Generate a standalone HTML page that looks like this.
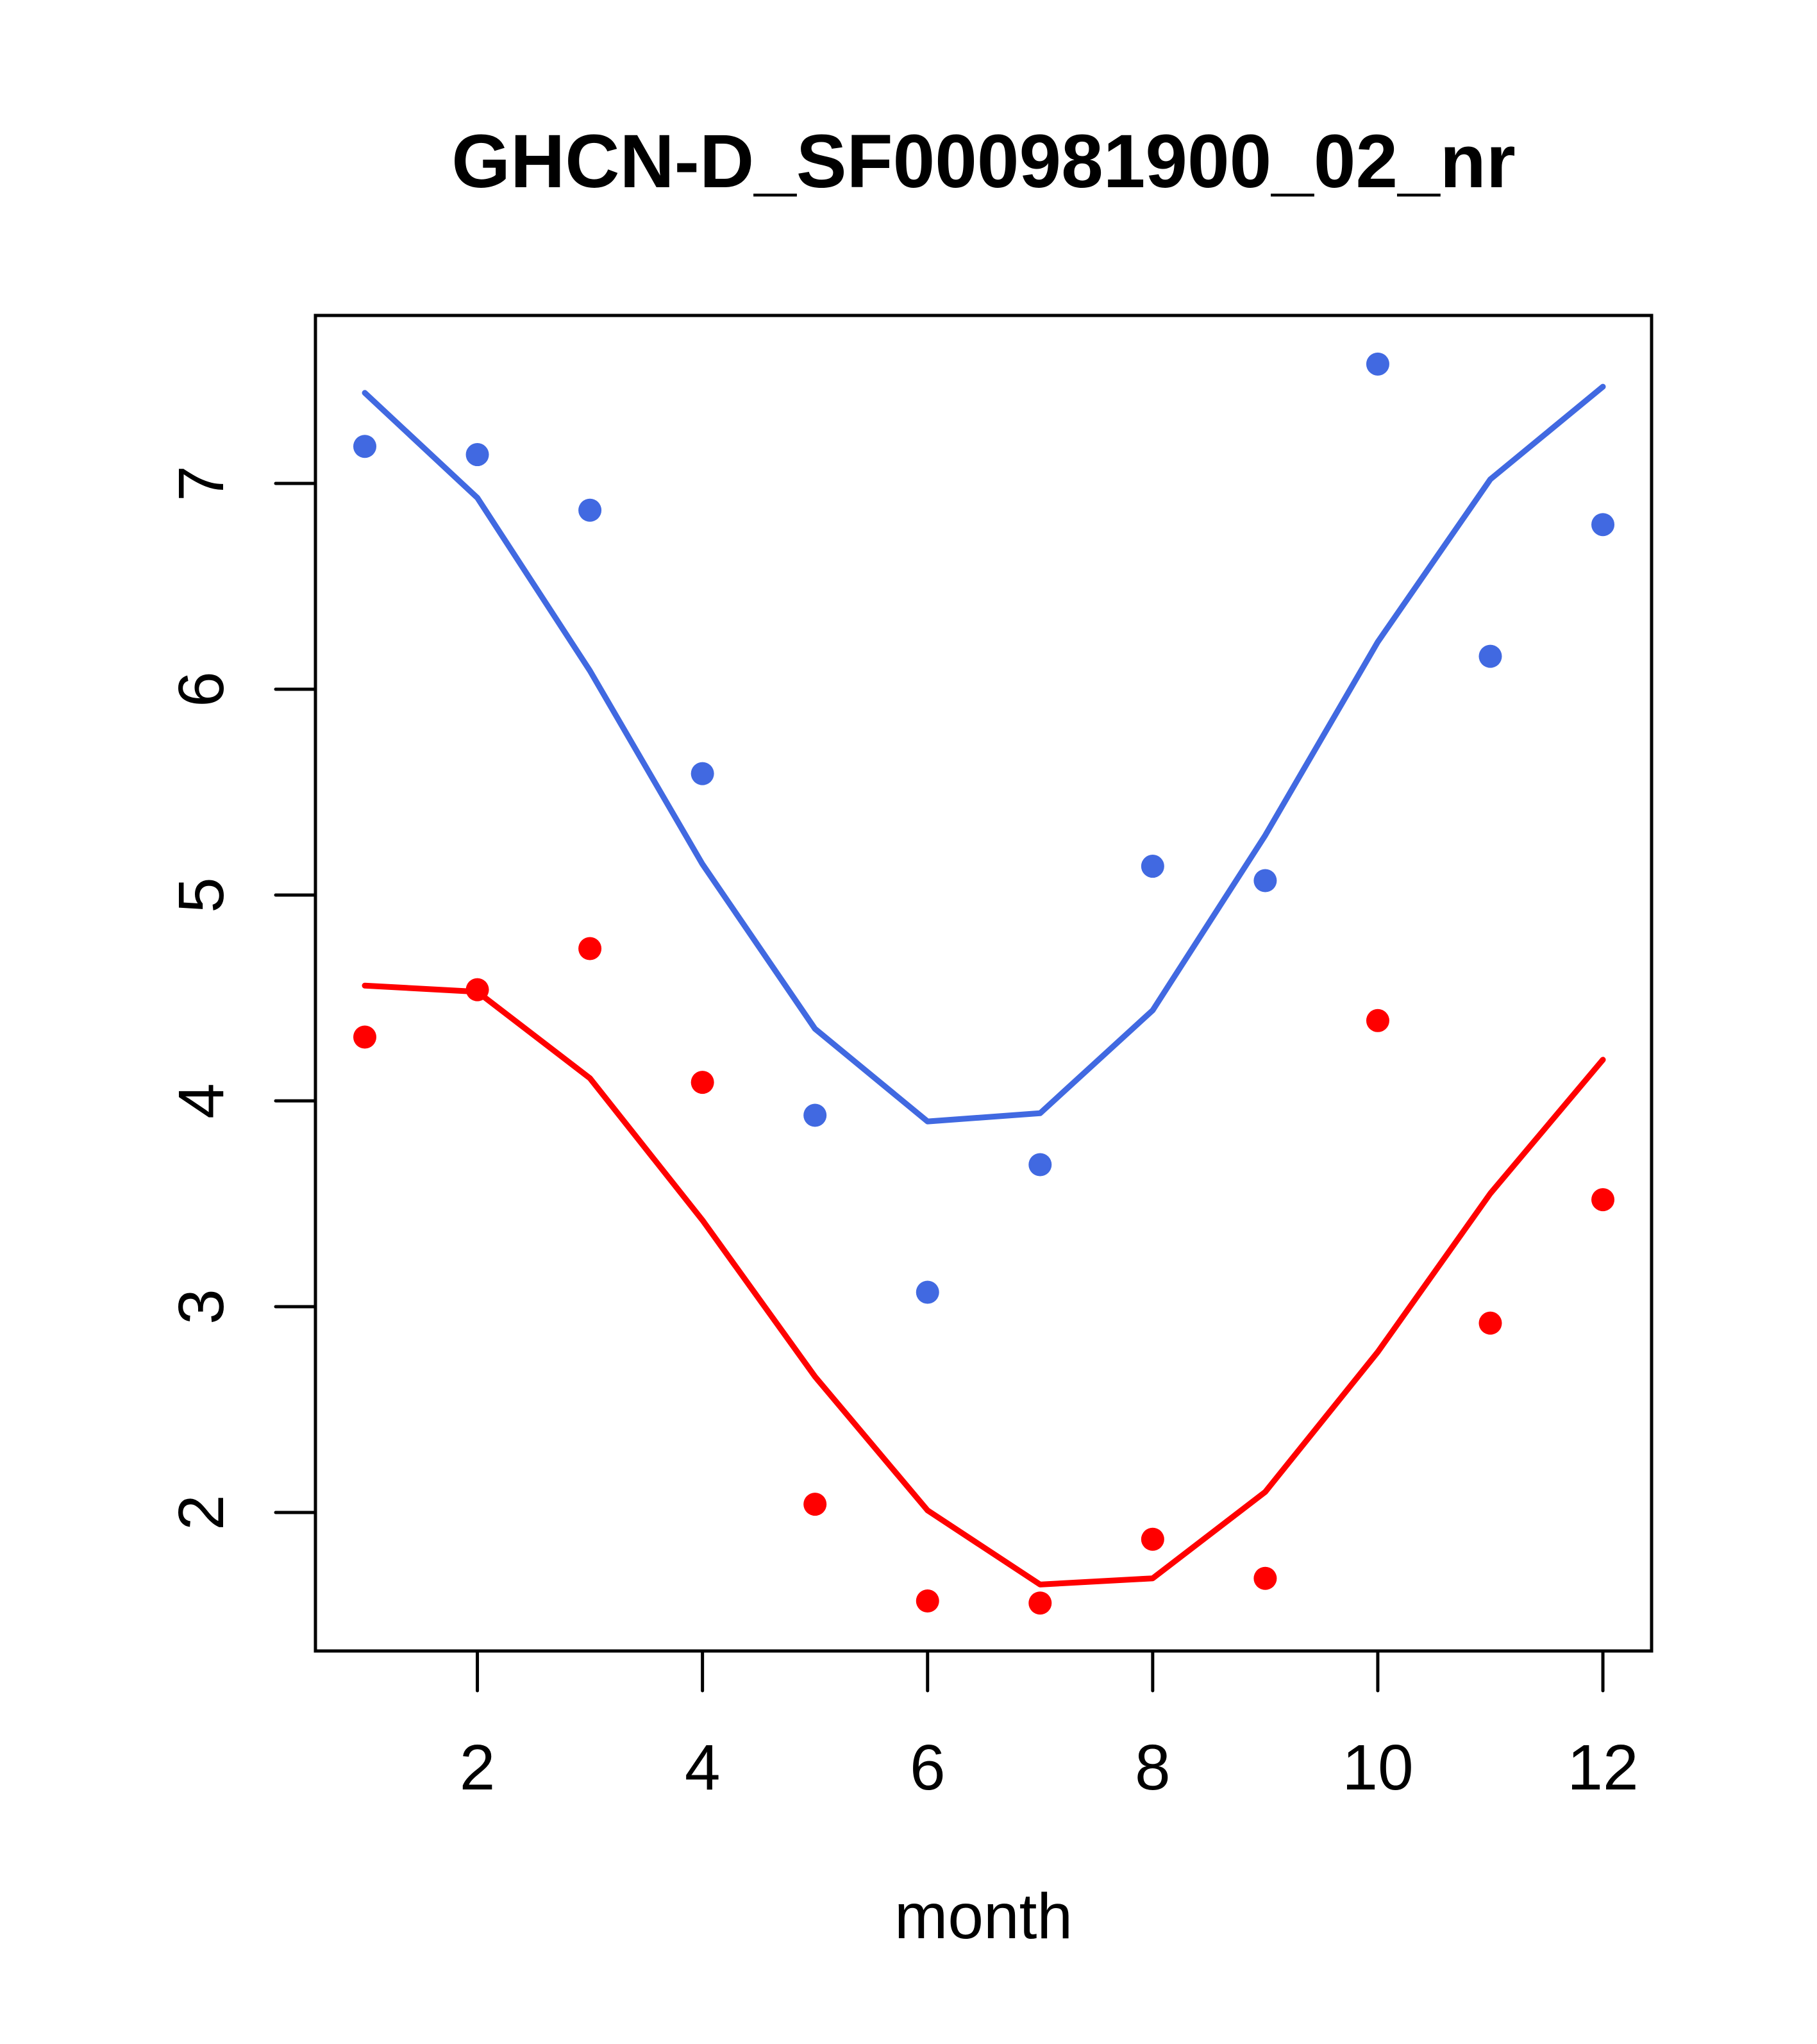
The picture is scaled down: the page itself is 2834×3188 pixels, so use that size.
<!DOCTYPE html>
<html><head><meta charset="utf-8"><style>html,body{margin:0;padding:0;background:#fff}svg{display:block}</style></head>
<body>
<svg id="chart" width="2834" height="3188" viewBox="0 0 2834 3188" xmlns="http://www.w3.org/2000/svg" font-family="Liberation Sans, Arial, sans-serif">
<rect width="2834" height="3188" fill="#fff"/>
<text x="1534" y="292" font-size="118" font-weight="bold" text-anchor="middle">GHCN-D_SF000981900_02_nr</text>
<text x="1534" y="3023" font-size="100" text-anchor="middle">month</text>
<g id="marks"></g>
<rect x="492" y="492" width="2084" height="2083" fill="none" stroke="#000" stroke-width="5"/>
<g id="axes"></g>
</svg>
<script>
const months=[1,2,3,4,5,6,7,8,9,10,11,12];
const bluePoints=[7.18,7.14,6.87,5.59,3.93,3.07,3.69,5.14,5.07,7.58,6.16,6.80];
const blueLine=[7.44,6.93,6.09,5.15,4.35,3.90,3.94,4.44,5.29,6.23,7.02,7.47];
const redPoints=[4.31,4.54,4.74,4.09,2.04,1.57,1.56,1.87,1.68,4.39,2.92,3.52];
const redLine=[4.56,4.53,4.11,3.42,2.66,2.01,1.65,1.68,2.10,2.78,3.55,4.20];
const xTicks=[2,4,6,8,10,12];
const yTicks=[2,3,4,5,6,7];
const NS="http://www.w3.org/2000/svg";
function xs(v){return 569+(v-1)*175.55;}
function ys(v){return 754+(7-v)*321;}
const marks=document.getElementById('marks'), axes=document.getElementById('axes');
function mk(tag,attrs,parent){const e=document.createElementNS(NS,tag);for(const k in attrs)e.setAttribute(k,attrs[k]);parent.appendChild(e);return e;}
function series(line,pts,color,name){
  const p=mk('polyline',{points:months.map((m,i)=>xs(m)+','+ys(line[i])).join(' '),fill:'none',stroke:color,'stroke-width':9,'stroke-linecap':'round','stroke-linejoin':'round'},marks);
  
  
  months.forEach((m,i)=>{
    const c=mk('circle',{cx:xs(m),cy:ys(pts[i]),r:18,fill:color},marks);
    
    
  });
}
series(blueLine,bluePoints,'#4169E1','blue');
series(redLine,redPoints,'#FF0000','red');
xTicks.forEach(t=>{
  const l=mk('line',{x1:xs(t),x2:xs(t),y1:2575,y2:2637,stroke:'#000','stroke-width':5,'stroke-linecap':'round'},axes);
  
  
  const tx=mk('text',{x:xs(t),y:2791,'font-size':100,'text-anchor':'middle'},axes);
  tx.textContent=t;
  
  
});
yTicks.forEach(t=>{
  const l=mk('line',{x1:430,x2:492,y1:ys(t),y2:ys(t),stroke:'#000','stroke-width':5,'stroke-linecap':'round'},axes);
  
  
  const tx=mk('text',{x:0,y:0,'font-size':100,'text-anchor':'middle',transform:'translate(348,'+ys(t)+') rotate(-90)'},axes);
  tx.textContent=t;
  
  
});
</script>
</body></html>
